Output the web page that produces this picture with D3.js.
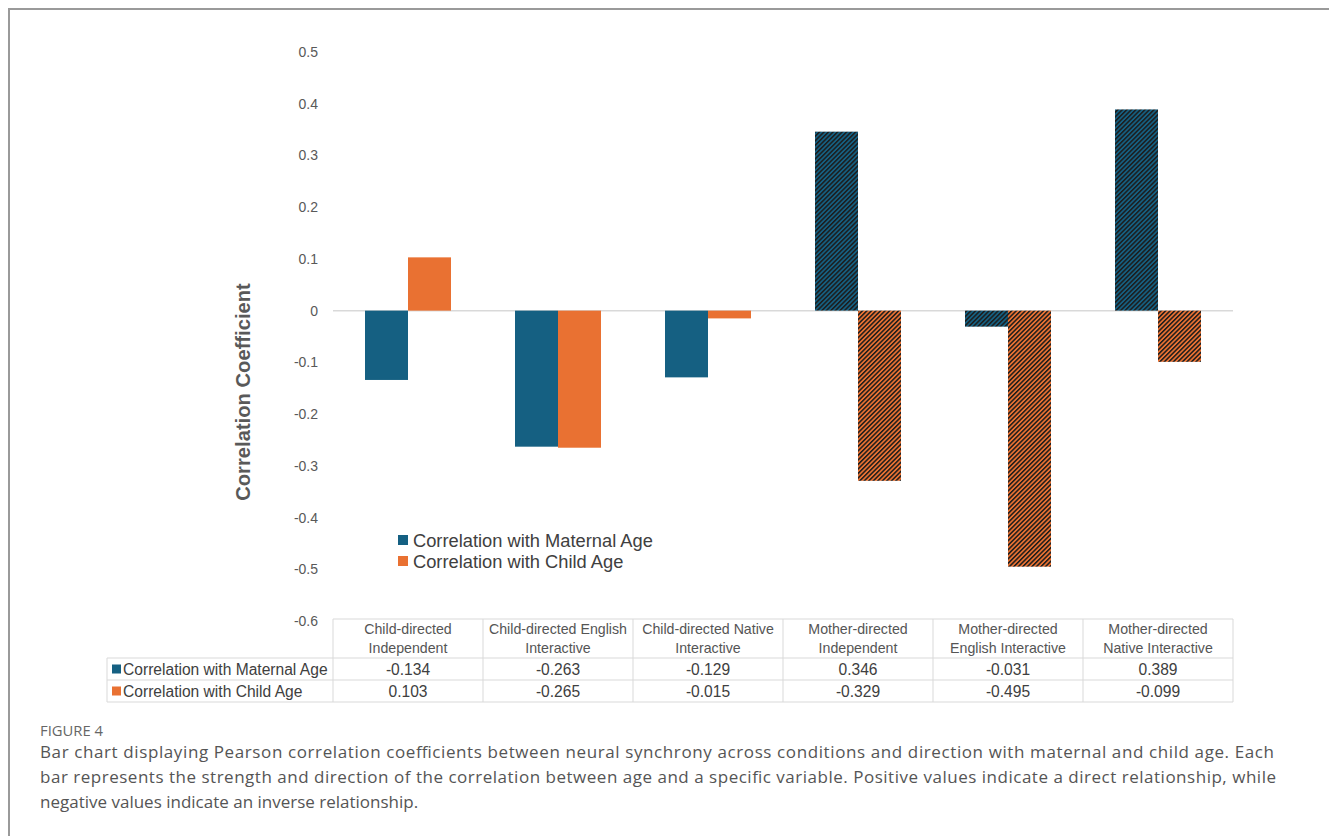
<!DOCTYPE html>
<html>
<head>
<meta charset="utf-8">
<script src="https://cdn.jsdelivr.net/npm/d3@7"></script>
<style>
  html, body { margin: 0; padding: 0; background: #fff; }
  svg { display: block; }
</style>
</head>
<body>
<svg id="chart" width="1329" height="836"></svg>
<script>
// Conditions (two-line headers in the data table)
const categories = [
  ["Child-directed", "Independent"],
  ["Child-directed English", "Interactive"],
  ["Child-directed Native", "Interactive"],
  ["Mother-directed", "Independent"],
  ["Mother-directed", "English Interactive"],
  ["Mother-directed", "Native Interactive"]
];
const seriesNames = ["Correlation with Maternal Age", "Correlation with Child Age"];
const maternalAge = [-0.134, -0.263, -0.129, 0.346, -0.031, 0.389];
const childAge = [0.103, -0.265, -0.015, -0.329, -0.495, -0.099];
const hatched = [false, false, false, true, true, true];
const yTicks = [0.5, 0.4, 0.3, 0.2, 0.1, 0, -0.1, -0.2, -0.3, -0.4, -0.5, -0.6];
const seriesColors = ["#156082", "#E97132"];
const captionLabel = "FIGURE 4";
const captionLines = [
  "Bar chart displaying Pearson correlation coefficients between neural synchrony across conditions and direction with maternal and child age. Each",
  "bar represents the strength and direction of the correlation between age and a specific variable. Positive values indicate a direct relationship, while",
  "negative values indicate an inverse relationship."
];

const svg = d3.select("#chart");
const chartFont = "'Liberation Sans', Arial, sans-serif";
const captionFont = "'Open Sans', Lato, sans-serif";
const textGray = "#595959";
// plain hyphen for negative numbers
const fmt = p => v => d3.format(p)(v).replace("\u2212", "-");

// Outer frame (left and top edges)
svg.append("path")
  .attr("d", "M9,836 V9 H1329")
  .attr("fill", "none")
  .attr("stroke", "#9a9a9a")
  .attr("stroke-width", 2);

// Hatch patterns for the mother-directed bars
const defs = svg.append("defs");
seriesColors.forEach((c, i) => {
  const p = defs.append("pattern")
    .attr("id", "hatch" + i)
    .attr("patternUnits", "userSpaceOnUse")
    .attr("width", 3.2)
    .attr("height", 3.2)
    .attr("patternTransform", "rotate(45)");
  p.append("rect").attr("width", 3.2).attr("height", 3.2).attr("fill", c);
  p.append("rect").attr("width", 1.5).attr("height", 3.2).attr("fill", "#1c1c1c");
});

// Scales
const plotLeft = 333, plotRight = 1233;
const y = d3.scaleLinear().domain([-0.6, 0.5]).range([621, 52]);
const idx = d3.range(categories.length);
const x0 = d3.scaleBand().domain(idx).range([plotLeft, plotRight]).padding(0);
const x1 = d3.scaleBand().domain([0, 1]).range([32, x0.bandwidth() - 32]).padding(0);

// Y axis labels (no axis line)
const yAxis = d3.axisLeft(y).tickValues(yTicks).tickSize(0).tickPadding(0)
  .tickFormat(d => d === 0 ? "0" : fmt(".1f")(d));
const yG = svg.append("g").attr("transform", `translate(318,0)`).call(yAxis);
yG.select(".domain").remove();
yG.selectAll("text")
  .attr("font-family", chartFont)
  .attr("font-size", 14)
  .attr("fill", textGray);

// Zero line
svg.append("line")
  .attr("x1", plotLeft).attr("x2", plotRight)
  .attr("y1", y(0)).attr("y2", y(0))
  .attr("stroke", "#d9d9d9").attr("stroke-width", 1.5);

// Bars
const series = [maternalAge, childAge];
series.forEach((vals, s) => {
  svg.append("g").selectAll("rect")
    .data(vals)
    .join("rect")
    .attr("x", (d, i) => x0(i) + x1(s))
    .attr("width", x1.bandwidth())
    .attr("y", d => y(Math.max(0, d)))
    .attr("height", d => Math.abs(y(d) - y(0)))
    .attr("fill", (d, i) => hatched[i] ? `url(#hatch${s})` : seriesColors[s]);
});

// Y axis title
svg.append("text")
  .attr("transform", `translate(250,392) rotate(-90)`)
  .attr("text-anchor", "middle")
  .attr("font-family", chartFont)
  .attr("font-weight", "bold")
  .attr("font-size", 20.2)
  .attr("fill", textGray)
  .text("Correlation Coefficient");

// Legend
const legend = svg.append("g").attr("transform", "translate(398,540)");
seriesNames.forEach((n, i) => {
  legend.append("rect")
    .attr("x", 0).attr("y", i * 21 - 5).attr("width", 10).attr("height", 10)
    .attr("fill", seriesColors[i]);
  legend.append("text")
    .attr("x", 15).attr("y", i * 21 + 6.5)
    .attr("font-family", chartFont)
    .attr("font-size", 18.3)
    .attr("fill", "#404040")
    .text(n);
});

// Data table
const tTop = 619, tHead = 658, tRow1 = 680, tRow2 = 702, labelLeft = 107;
const tg = svg.append("g").attr("stroke", "#d9d9d9").attr("stroke-width", 1).attr("fill", "none");
// horizontal lines
tg.append("line").attr("x1", plotLeft).attr("x2", plotRight).attr("y1", tTop).attr("y2", tTop);
[tHead, tRow1, tRow2].forEach(yy =>
  tg.append("line").attr("x1", labelLeft).attr("x2", plotRight).attr("y1", yy).attr("y2", yy));
// vertical lines
tg.append("line").attr("x1", labelLeft).attr("x2", labelLeft).attr("y1", tHead).attr("y2", tRow2);
idx.concat([categories.length]).forEach(i => {
  const xx = i < categories.length ? x0(i) : plotRight;
  tg.append("line").attr("x1", xx).attr("x2", xx).attr("y1", tTop).attr("y2", tRow2);
});

const tableText = svg.append("g")
  .attr("font-family", chartFont)
  .attr("fill", "#404040");

// headers
categories.forEach((lines, i) => {
  lines.forEach((ln, k) => {
    tableText.append("text")
      .attr("x", x0(i) + x0.bandwidth() / 2)
      .attr("y", 634 + k * 19)
      .attr("text-anchor", "middle")
      .attr("font-size", 14.2)
      .attr("fill", "#555")
      .text(ln);
  });
});
// row labels + values
const rowMid = [(tHead + tRow1) / 2, (tRow1 + tRow2) / 2];
series.forEach((vals, s) => {
  svg.append("rect")
    .attr("x", 112).attr("y", rowMid[s] - 4.5).attr("width", 9).attr("height", 9)
    .attr("fill", seriesColors[s]);
  tableText.append("text")
    .attr("x", 123).attr("y", rowMid[s] + 5.5)
    .attr("font-size", 15.6)
    .text(seriesNames[s]);
  vals.forEach((v, i) => {
    tableText.append("text")
      .attr("x", x0(i) + x0.bandwidth() / 2)
      .attr("y", rowMid[s] + 5.5)
      .attr("text-anchor", "middle")
      .attr("font-size", 15.6)
      .text(fmt(".3f")(v));
  });
});

// Caption
svg.append("text")
  .attr("x", 40).attr("y", 736)
  .attr("font-family", captionFont)
  .attr("font-size", 14)
  .attr("fill", "#666")
  .attr("textLength", 63)
  .attr("lengthAdjust", "spacingAndGlyphs")
  .text(captionLabel);
const captionWidths = [1234, 1236, null];
captionLines.forEach((ln, i) => {
  const t = svg.append("text")
    .attr("x", 40).attr("y", 758 + i * 25)
    .attr("font-family", captionFont)
    .attr("font-size", 17)
    .attr("fill", "#555")
    .text(ln);
  if (captionWidths[i]) t.attr("textLength", captionWidths[i]).attr("lengthAdjust", "spacing");
});
</script>
</body>
</html>
